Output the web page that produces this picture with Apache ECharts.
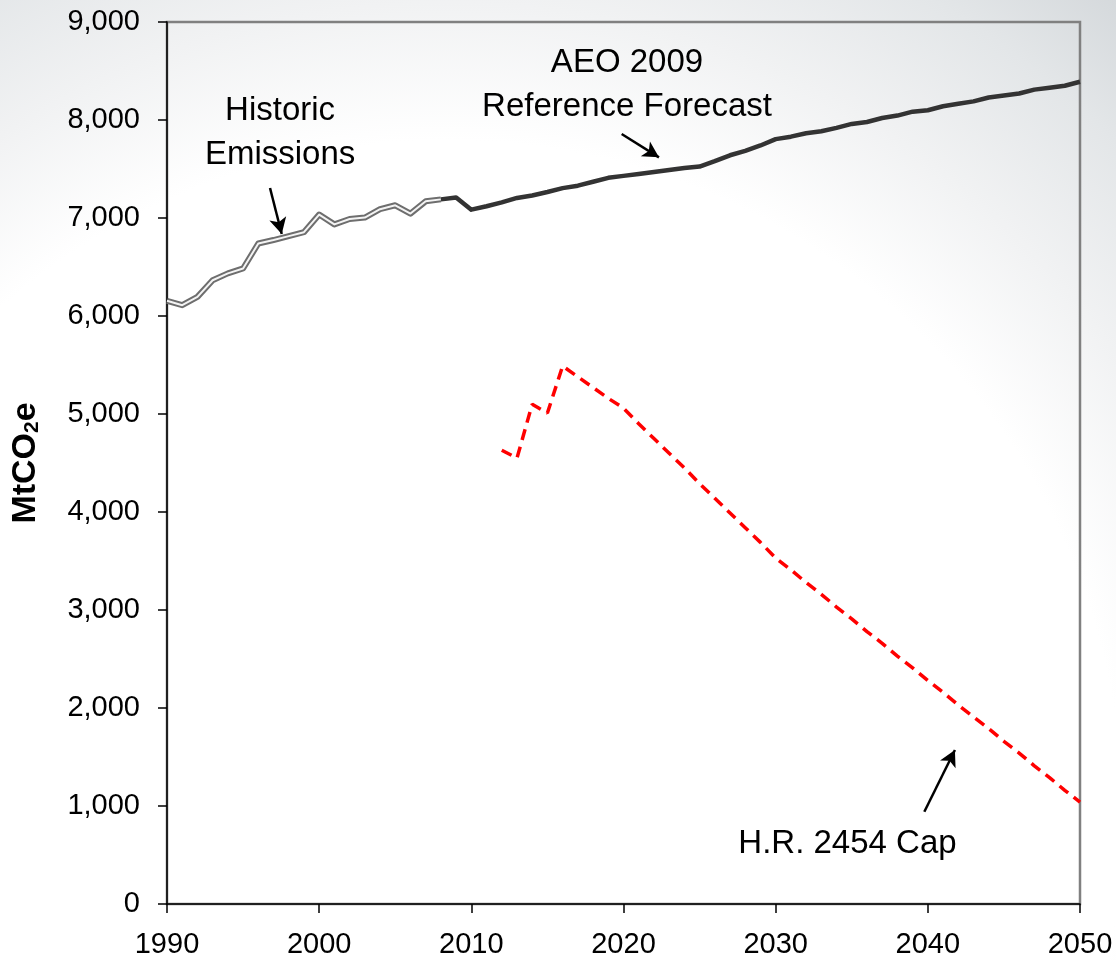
<!DOCTYPE html>
<html>
<head>
<meta charset="utf-8">
<title>MtCO2e: Historic Emissions, AEO 2009 Reference Forecast, H.R. 2454 Cap</title>
<script src="https://cdn.jsdelivr.net/npm/echarts@6/dist/echarts.min.js"></script>
<style>
  html, body { margin: 0; padding: 0; background: #ffffff; }
  #chart { width: 1116px; height: 960px; }
</style>
</head>
<body>
<div id="chart"></div>
<script>
// Historic emissions, 1990-2008 (MtCO2e)
const historicYears = [1990, 1991, 1992, 1993, 1994, 1995, 1996, 1997, 1998, 1999,
  2000, 2001, 2002, 2003, 2004, 2005, 2006, 2007, 2008];
const historicValues = [6155, 6110, 6195, 6365, 6435, 6485, 6740, 6775, 6815, 6855,
  7035, 6935, 6990, 7005, 7090, 7130, 7045, 7170, 7190];

// AEO 2009 reference forecast, 2008-2050 (MtCO2e)
const forecastYears = [2008, 2009, 2010, 2011, 2012, 2013, 2014, 2015, 2016, 2017,
  2018, 2019, 2020, 2021, 2022, 2023, 2024, 2025, 2026, 2027, 2028, 2029,
  2030, 2031, 2032, 2033, 2034, 2035, 2036, 2037, 2038, 2039, 2040, 2041,
  2042, 2043, 2044, 2045, 2046, 2047, 2048, 2049, 2050];
const forecastValues = [7190, 7210, 7085, 7120, 7160, 7205, 7230, 7265, 7305, 7330,
  7370, 7410, 7430, 7450, 7470, 7490, 7510, 7525, 7580, 7640, 7685, 7740,
  7805, 7830, 7865, 7885, 7920, 7960, 7980, 8020, 8045, 8085, 8100, 8140,
  8165, 8190, 8230, 8250, 8270, 8310, 8330, 8350, 8390];

// H.R. 2454 emissions cap, 2012-2050 (MtCO2e)
const capYears = [2012, 2013, 2014, 2015, 2016, 2017, 2018, 2019, 2020, 2021,
  2022, 2023, 2024, 2025, 2026, 2027, 2028, 2029, 2030, 2031, 2032, 2033,
  2034, 2035, 2036, 2037, 2038, 2039, 2040, 2041, 2042, 2043, 2044, 2045,
  2046, 2047, 2048, 2049, 2050];
const capValues = [4630, 4550, 5100, 5010, 5490, 5380, 5270, 5160, 5060, 4900,
  4750, 4600, 4450, 4290, 4140, 3990, 3840, 3690, 3530, 3410, 3280, 3160,
  3030, 2910, 2780, 2660, 2530, 2410, 2280, 2160, 2030, 1910, 1790, 1660,
  1540, 1410, 1290, 1160, 1040];

// Axis ranges and ticks
const yearMin = 1990, yearMax = 2050, yearStep = 10;
const emisMin = 0, emisMax = 9000, emisStep = 1000;

// Annotation texts, their anchor points and arrows (data coordinates)
const notes = [
  { text: 'Historic\nEmissions', at: [1997.43, 7872] },
  { text: 'AEO 2009\nReference Forecast', at: [2020.23, 8357] },
  { text: 'H.R. 2454 Cap', at: [2034.72, 612] }
];
const arrows = [
  { from: [1996.77, 7306], to: [1997.54, 6837] },
  { from: [2019.88, 7857], to: [2022.33, 7619] },
  { from: [2039.77, 942], to: [2041.78, 1571] }
];

const pairs = (xs, ys) => xs.map((x, i) => [x, ys[i]]);
const FONT = '"Liberation Sans", Arial, Helvetica, sans-serif';

const chart = echarts.init(document.getElementById('chart'), null, { renderer: 'canvas' });

const arrowLines = arrows.map(a => [{ coord: a.from }, { coord: a.to }]);
const arrowMark = line => ({
  silent: true, symbol: ['none', 'arrow'], symbolSize: [13, 16],
  label: { show: false },
  lineStyle: { color: '#000', width: 2.5, type: 'solid' },
  data: [line]
});

chart.setOption({
  animation: false,
  backgroundColor: 'transparent',
  grid: {
    left: 167, right: 36, top: 22, bottom: 56,
    show: true, borderColor: '#808080', borderWidth: 2.5, backgroundColor: 'transparent'
  },
  xAxis: {
    type: 'value', min: yearMin, max: yearMax, interval: yearStep,
    splitLine: { show: false },
    axisLine: { show: true, onZero: false, lineStyle: { color: '#000', width: 1.5 } },
    axisTick: { show: true, inside: false, length: 9, lineStyle: { color: '#000', width: 1.5 } },
    axisLabel: {
      margin: 26, color: '#000', fontSize: 29, fontFamily: FONT,
      formatter: v => String(v)
    }
  },
  yAxis: {
    type: 'value', min: emisMin, max: emisMax, interval: emisStep,
    splitLine: { show: false },
    axisLine: { show: true, lineStyle: { color: '#000', width: 1.5 } },
    axisTick: { show: true, inside: false, length: 9, lineStyle: { color: '#000', width: 1.5 } },
    axisLabel: {
      margin: 27, color: '#000', fontSize: 29, fontFamily: FONT,
      formatter: v => v.toLocaleString('en-US')
    },
    name: 'MtCO{sub|2}e',
    nameLocation: 'middle',
    nameGap: 124,
    nameTextStyle: {
      color: '#000', fontSize: 34, fontWeight: 'bold', fontFamily: FONT,
      rich: {
        sub: { fontSize: 21, fontWeight: 'bold', fontFamily: FONT, color: '#000', padding: [12, 0, 0, 0] }
      }
    }
  },
  series: [
    {
      // outer grey stroke of the historic double line
      name: 'Historic Emissions', type: 'line', z: 3,
      data: pairs(historicYears, historicValues),
      showSymbol: false, symbol: 'none',
      lineStyle: { color: '#6e6e6e', width: 6, join: 'round' },
      markLine: arrowMark(arrowLines[0])
    },
    {
      // light core of the historic double line
      name: 'Historic Emissions core', type: 'line', z: 4,
      data: pairs(historicYears, historicValues),
      showSymbol: false, symbol: 'none',
      lineStyle: { color: '#f4f4f4', width: 2, join: 'round' }
    },
    {
      name: 'AEO 2009 Reference Forecast', type: 'line', z: 5,
      data: pairs(forecastYears, forecastValues),
      showSymbol: false, symbol: 'none',
      lineStyle: { color: '#333333', width: 4.5, join: 'round' },
      markLine: arrowMark(arrowLines[1])
    },
    {
      name: 'H.R. 2454 Cap', type: 'line', z: 5,
      data: pairs(capYears, capValues),
      showSymbol: false, symbol: 'none',
      lineStyle: { color: '#ff0000', width: 3.5, type: [11, 7] },
      markLine: arrowMark(arrowLines[2])
    }
  ]
});

// Soft grey backdrop brightening towards the lower left, plus the annotation texts
function drawDecor() {
  const texts = notes.map(n => {
    const p = chart.convertToPixel({ gridIndex: 0 }, n.at);
    return {
      type: 'text', z: 10, x: p[0], y: p[1],
      style: {
        text: n.text, fill: '#000', fontSize: 33, fontFamily: FONT,
        align: 'center', verticalAlign: 'middle', lineHeight: 44
      }
    };
  });
  chart.setOption({
    graphic: [
      {
        type: 'rect', z: -10, silent: true,
        shape: { x: 0, y: 0, width: 1116, height: 960 },
        style: {
          fill: {
            type: 'radial', x: 0.4, y: 0.85, r: 1.1,
            colorStops: [
              { offset: 0, color: '#ffffff' },
              { offset: 0.64, color: '#ffffff' },
              { offset: 0.77, color: '#f1f2f3' },
              { offset: 0.9, color: '#e3e6e8' },
              { offset: 1, color: '#d5d9dc' }
            ]
          }
        }
      }
    ].concat(texts)
  });
}
drawDecor();
</script>
</body>
</html>
